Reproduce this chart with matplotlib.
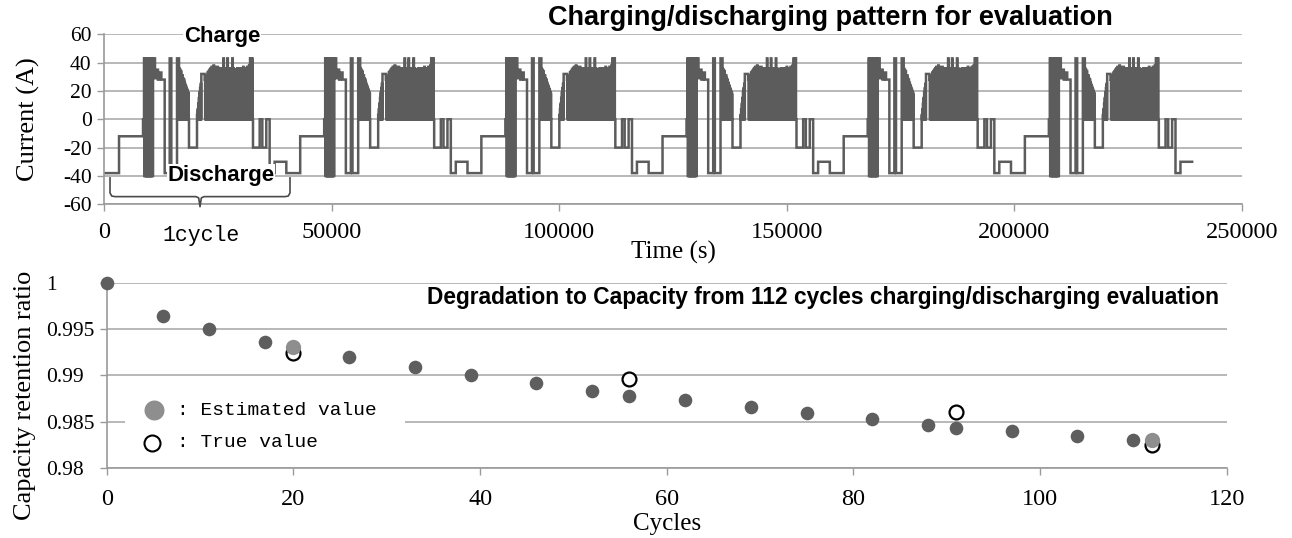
import matplotlib
matplotlib.use("Agg")
import matplotlib.pyplot as plt

plt.rcParams['axes.unicode_minus'] = False

# ---------------- Top panel data: one charge/discharge cycle ----------------
CYCLE_PERIOD = 39800      # s
FIRST_RISE = 3300         # s, start of first cycle
N_CYCLES = 6
START_LEVEL = -38         # A, before the first cycle

# plain step levels inside one cycle (time relative to cycle start, s)
STEP_T = [0, 5270, 7470, 7900, 8350, 8560, 8900, 9300, 10030, 11130, 11490,
          12740, 15370, 18080, 29430, 30900, 31480, 32350, 33090, 34180, 36750]
STEP_I = [-12, 0, 43, 29, 35, 28, 33, 28, -38, 43, -38,
          43, -20, 32, -20, 0, -20, 0, -38, -30, -38]

# dense pulse trains (start, end), base level, pulse tops
TRAIN_A_SPAN = (5490, 7470)
TRAIN_A_BASE = -40
TRAIN_A_TOPS = [43, 43, 43, 43, 43, 43, 43, 43, 43, 43, 43, 43, 43, 43]

TRAIN_C_SPAN = (13180, 15370)
TRAIN_C_BASE = 0
TRAIN_C_TOPS = [36, 33, 35, 32, 34, 31, 30, 31, 29, 27, 28, 26, 25, 24, 23,
                22, 21, 20, 19, 18]

TRAIN_D_SPAN = (17130, 18080)
TRAIN_D_BASE = 0
TRAIN_D_TOPS = [3, 7, 11, 15, 19, 22, 25]

TRAIN_E_SPAN = (18810, 29430)
TRAIN_E_BASE = 0
TRAIN_E_TOPS = [28, 30, 31, 33, 34, 35, 36, 37, 36, 38, 37, 36, 35, 37, 36,
                35, 34, 36, 35,
                43, 36, 35, 34, 43, 35, 36, 34, 33, 43, 36, 35,
                35, 34, 36, 35, 34, 36, 35, 36, 37, 36, 35, 36, 37, 36, 38,
                43, 43, 43]

# ---------------- Bottom panel data ----------------
CYCLES_DARK = [0, 6, 11, 17, 26, 33, 39, 46, 52, 56, 62, 69, 75, 82, 88, 91,
               97, 104, 110]
RATIO_DARK = [1.0, 0.99641, 0.99498, 0.99364, 0.99196, 0.99094, 0.99005,
              0.98915, 0.98838, 0.98780, 0.98738, 0.98663, 0.98599, 0.98531,
              0.98469, 0.98437, 0.98401, 0.98351, 0.98301]
CYCLES_LIGHT = [20, 112]
RATIO_LIGHT = [0.99310, 0.98304]
CYCLES_TRUE = [20, 56, 91, 112]
RATIO_TRUE = [0.99245, 0.98958, 0.98609, 0.98250]

TOP_XTICKS = [0, 50000, 100000, 150000, 200000, 250000]
TOP_YTICKS = [-60, -40, -20, 0, 20, 40, 60]
BOT_XTICKS = [0, 20, 40, 60, 80, 100, 120]
BOT_YTICKS = [0.98, 0.985, 0.99, 0.995, 1.0]
BOT_YLABELS = ["0.98", "0.985", "0.99", "0.995", "1"]

# ---------------- build the current profile ----------------
TRAINS = [(TRAIN_A_SPAN, TRAIN_A_BASE, TRAIN_A_TOPS),
          (TRAIN_C_SPAN, TRAIN_C_BASE, TRAIN_C_TOPS),
          (TRAIN_D_SPAN, TRAIN_D_BASE, TRAIN_D_TOPS),
          (TRAIN_E_SPAN, TRAIN_E_BASE, TRAIN_E_TOPS)]


def cycle_events():
    ev = list(zip(STEP_T, STEP_I))
    for (t0, t1), base, tops in TRAINS:
        dt = (t1 - t0) / len(tops)
        for k, top in enumerate(tops):
            ev.append((t0 + k * dt, top))
            ev.append((t0 + (k + 0.5) * dt, base))
    ev.sort(key=lambda e: e[0])
    return ev


EVENTS = cycle_events()
times = [0.0]
current = [START_LEVEL]
for n in range(N_CYCLES):
    off = FIRST_RISE + n * CYCLE_PERIOD
    last = n == N_CYCLES - 1
    for t, v in EVENTS:
        if last and t >= STEP_T[-1]:
            continue
        times.append(off + t)
        current.append(v)
    if last:
        times.append(off + STEP_T[-1])
        current.append(STEP_I[-2])

# ---------------- styling ----------------
SERIF = 'Liberation Serif'
SANS = 'Liberation Sans'
MONO = 'Liberation Mono'
GRID_C = '#b2b2b2'
AX_C = '#9a9a9a'
LINE_C = '#5c5c5c'
DARK_C = '#5e5e5e'
LIGHT_C = '#8e8e8e'

fig = plt.figure(figsize=(12.92, 5.38), dpi=100)
ax1 = fig.add_axes([0.0805, 0.6203, 0.8808, 0.316])
ax2 = fig.add_axes([0.0826, 0.1296, 0.8669, 0.3449])

for ax in (ax1, ax2):
    for s in ('top', 'right'):
        ax.spines[s].set_visible(False)
    for s in ('left', 'bottom'):
        ax.spines[s].set_color(AX_C)
        ax.spines[s].set_linewidth(1.2)
    ax.tick_params(axis='both', colors=AX_C, length=5, width=1.0,
                   labelcolor='black')
    ax.yaxis.grid(True, color=GRID_C, linewidth=1.3)
    ax.set_axisbelow(True)

# ---- top panel ----
ax1.plot(times, current, drawstyle='steps-post', color=LINE_C, lw=1.8,
         solid_joinstyle='miter')
ax1.set_xlim(0, 250000)
ax1.set_ylim(-60, 60)
ax1.set_xticks(TOP_XTICKS)
ax1.set_xticklabels([str(v) for v in TOP_XTICKS], fontfamily=SERIF,
                    fontsize=17.5)
ax1.set_yticks(TOP_YTICKS)
ax1.set_yticklabels([str(v) for v in TOP_YTICKS], fontfamily=SERIF,
                    fontsize=15.5)
ax1.tick_params(axis='x', pad=8)
ax1.tick_params(axis='y', pad=4)
ax1.set_xlabel('Time (s)', fontfamily=SERIF, fontsize=18, va='center')
ax1.xaxis.set_label_coords(0.5, -0.285)
ax1.set_ylabel('Current (A)', fontfamily=SERIF, fontsize=19, va='center')
ax1.yaxis.set_label_coords(-0.0668, 0.5)

ax1.text(0.1037, 0.986, 'Charge', transform=ax1.transAxes, ha='center',
         va='center', fontfamily=SANS, fontweight='bold', fontsize=16,
         bbox=dict(facecolor='white', edgecolor='none', pad=0.5), zorder=5)
ax1.text(0.1028, 0.172, 'Discharge', transform=ax1.transAxes, ha='center',
         va='center', fontfamily=SANS, fontweight='bold', fontsize=16,
         bbox=dict(facecolor='white', edgecolor='none', pad=0.5), zorder=5)
ax1.text(0.0852, -0.181, '1cycle', transform=ax1.transAxes, ha='center',
         va='center', fontfamily=MONO, fontsize=15.5)

# curly bracket marking one cycle (annotation, in data coordinates)
br_x = [1320, 1320, 1700, 2420, 20210, 20800, 21090, 21380, 21970, 39760,
        40480, 40860, 40860]
br_y = [-41.4, -52, -54.2, -54.6, -54.6, -55.5, -61.7, -55.5, -54.6, -54.6,
        -54.2, -52, -41.4]
ax1.plot(br_x, br_y, color='#4a4a4a', lw=1.2, clip_on=False, zorder=6)

fig.text(0.6424, 0.9665, 'Charging/discharging pattern for evaluation',
         ha='center', va='center', fontfamily=SANS, fontweight='bold',
         fontsize=19.5)

# ---- bottom panel ----
ax2.plot(CYCLES_TRUE, RATIO_TRUE, linestyle='none', marker='o', ms=10,
         mfc='white', mec='black', mew=1.6, clip_on=False, zorder=3)
ax2.plot(CYCLES_DARK, RATIO_DARK, linestyle='none', marker='o', ms=9.8,
         mfc=DARK_C, mec=DARK_C, mew=0, clip_on=False, zorder=4)
ax2.plot(CYCLES_LIGHT, RATIO_LIGHT, linestyle='none', marker='o', ms=11,
         mfc=LIGHT_C, mec=LIGHT_C, mew=0, clip_on=False, zorder=4)
ax2.set_xlim(0, 120)
ax2.set_ylim(0.98, 1.0)
ax2.set_xticks(BOT_XTICKS)
ax2.set_xticklabels([str(v) for v in BOT_XTICKS], fontfamily=SERIF,
                    fontsize=17.5)
ax2.set_yticks(BOT_YTICKS)
ax2.set_yticklabels(BOT_YLABELS, fontfamily=SERIF, fontsize=15.5, ha='left')
ax2.tick_params(axis='x', pad=10)
ax2.tick_params(axis='y', pad=38.7)
ax2.set_xlabel('Cycles', fontfamily=SERIF, fontsize=18, va='center')
ax2.xaxis.set_label_coords(0.5, -0.30)
ax2.set_ylabel('Capacity retention ratio', fontfamily=SERIF, fontsize=19,
               va='center')
ax2.yaxis.set_label_coords(-0.073, 0.395)

ax2.text(0.6396, 0.923,
         'Degradation to Capacity from 112 cycles charging/discharging evaluation',
         transform=ax2.transAxes, ha='center', va='center', fontfamily=SANS,
         fontweight='bold', fontsize=16.4)

# manual legend
ax2.add_patch(plt.Rectangle((0.0163, 0.05), 0.25, 0.345,
                            transform=ax2.transAxes, facecolor='white',
                            edgecolor='none', zorder=2))
ax2.plot([0.0425], [0.314], transform=ax2.transAxes, marker='o', ms=14.4,
         mfc=LIGHT_C, mec=LIGHT_C, mew=0, linestyle='none', zorder=5)
ax2.plot([0.0402], [0.138], transform=ax2.transAxes, marker='o', ms=11.5,
         mfc='white', mec='black', mew=1.5, linestyle='none', zorder=5)
ax2.text(0.0628, 0.314, ': Estimated value', transform=ax2.transAxes,
         ha='left', va='center', fontfamily=MONO, fontsize=14, zorder=5)
ax2.text(0.0628, 0.138, ': True value', transform=ax2.transAxes,
         ha='left', va='center', fontfamily=MONO, fontsize=14, zorder=5)

fig.savefig('out.png', dpi=100)
